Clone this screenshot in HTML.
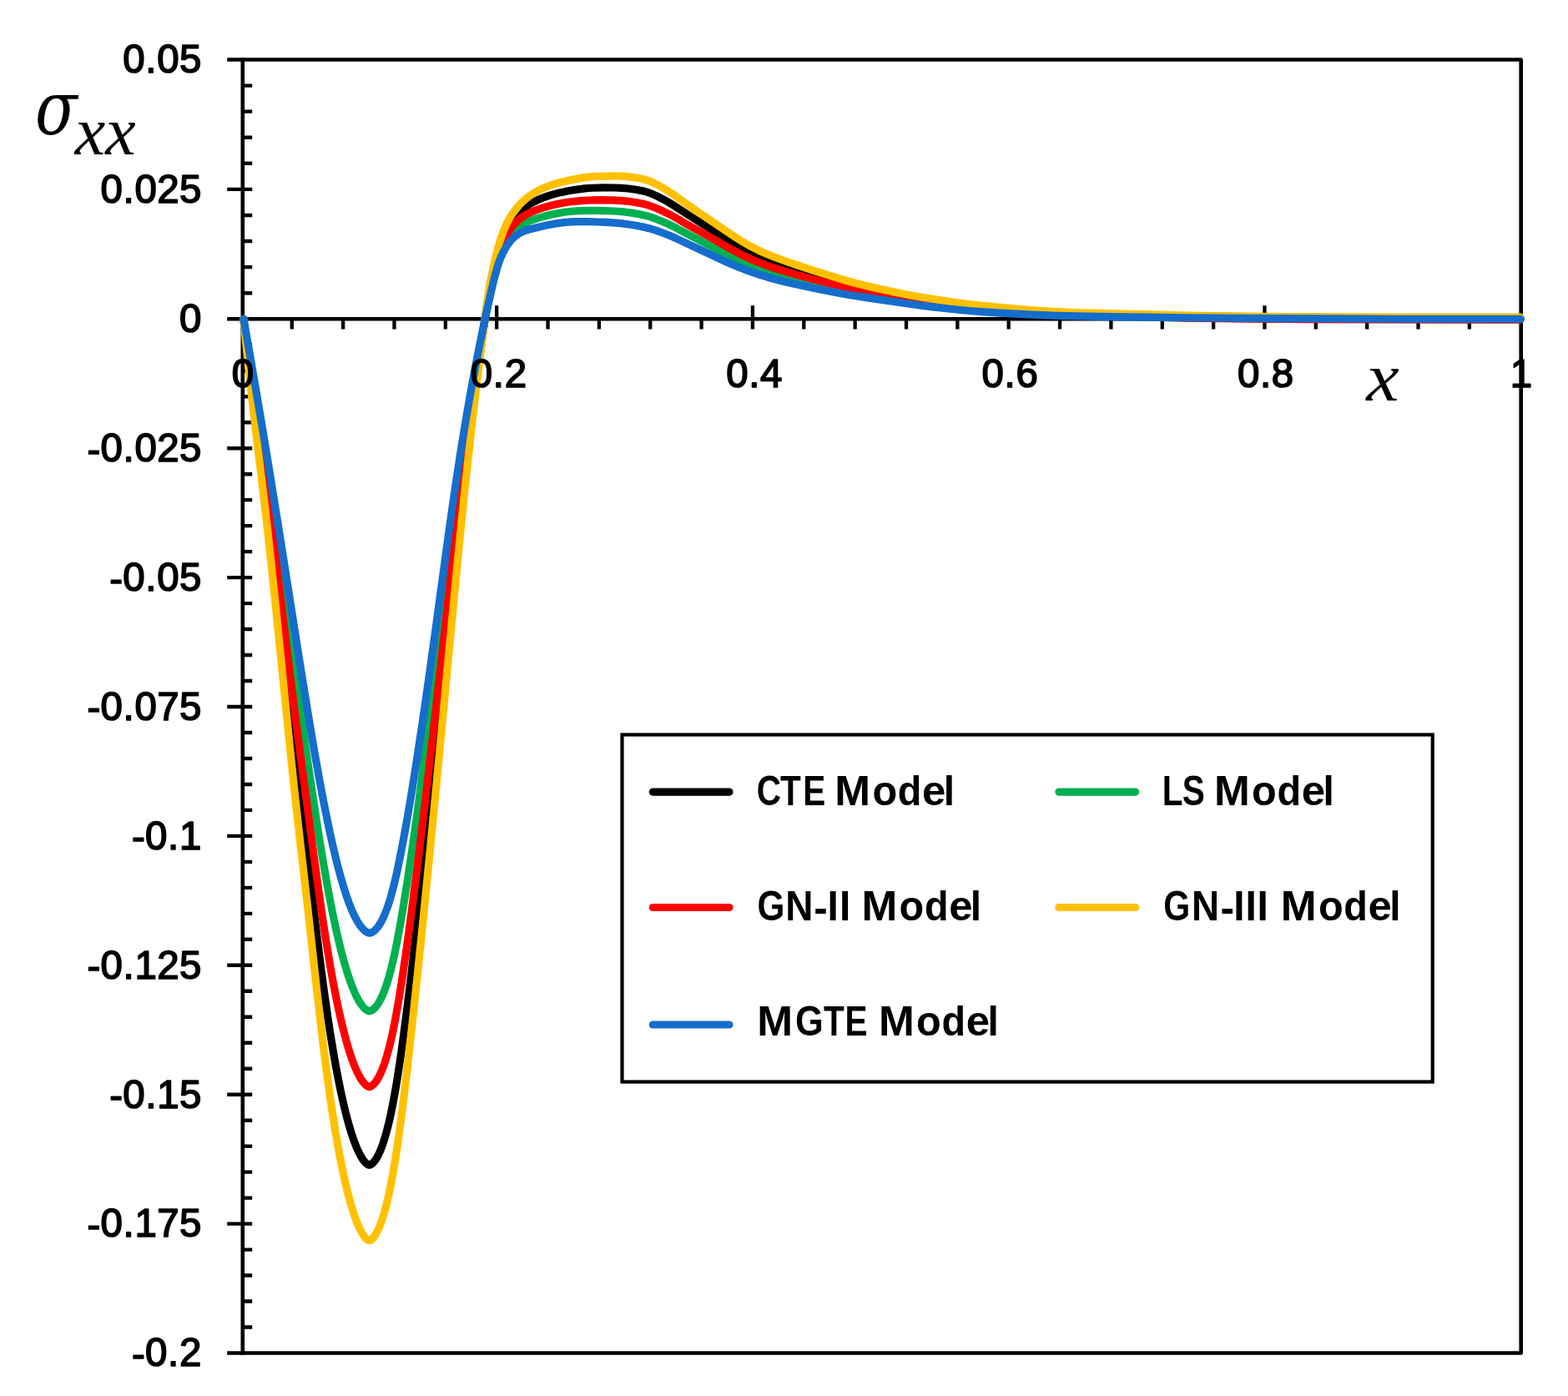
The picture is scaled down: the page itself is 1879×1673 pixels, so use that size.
<!DOCTYPE html>
<html lang="en">
<head>
<meta charset="utf-8">
<title>Stress distribution for different thermoelastic models</title>
<style>
html,body{margin:0;padding:0;background:#ffffff;}
body{width:1879px;height:1673px;overflow:hidden;}
svg{display:block;}
.t{font-family:"Liberation Sans",sans-serif;font-weight:bold;fill:#000;}
.n{font-family:"Liberation Sans",sans-serif;font-weight:normal;fill:#000;stroke:#000;stroke-width:1.7px;stroke-linejoin:round;}
.m{font-family:"Liberation Serif",serif;font-size:100px;font-style:italic;fill:#000;}
.s{font-family:"DejaVu Serif","Liberation Serif",serif;font-size:100px;font-style:italic;fill:#000;}
</style>
</head>
<body>
<svg width="1879" height="1673" viewBox="0 0 1879 1673">
<desc>CTE Model, LS Model, GN-II Model, GN-III Model, MGTE Model</desc>
<defs><filter id="soft" x="0" y="0" width="1879" height="1673" filterUnits="userSpaceOnUse" color-interpolation-filters="sRGB"><feGaussianBlur stdDeviation="0.65"/></filter></defs>
<rect width="1879" height="1673" fill="#ffffff"/>
<g id="chart" filter="url(#soft)">
<rect width="1879" height="1673" fill="#ffffff"/>
<g id="axes" stroke="#000" stroke-width="4.6" fill="none" stroke-linecap="butt">
<path d="M272.2,71.5 H1822.7 V1621.5 H272.2" stroke-linejoin="round"/>
<path d="M290.8,69.2 V1623.8"/>
<path d="M272.2,382.3 H1822.7"/>
<path stroke-width="4.4" d="M290.8,102.58H302.2M290.8,133.66H302.2M290.8,164.74H302.2M290.8,195.82H302.2M272.2,226.9H302.2M290.8,257.98H302.2M290.8,289.06H302.2M290.8,320.14H302.2M290.8,351.22H302.2M290.8,413.28H302.2M290.8,444.26H302.2M290.8,475.24H302.2M290.8,506.22H302.2M272.2,537.2H302.2M290.8,568.18H302.2M290.8,599.16H302.2M290.8,630.14H302.2M290.8,661.12H302.2M272.2,692.1H302.2M290.8,723.08H302.2M290.8,754.06H302.2M290.8,785.04H302.2M290.8,816.02H302.2M272.2,847H302.2M290.8,877.98H302.2M290.8,908.96H302.2M290.8,939.94H302.2M290.8,970.92H302.2M272.2,1001.9H302.2M290.8,1032.88H302.2M290.8,1063.86H302.2M290.8,1094.84H302.2M290.8,1125.82H302.2M272.2,1156.8H302.2M290.8,1187.78H302.2M290.8,1218.76H302.2M290.8,1249.74H302.2M290.8,1280.72H302.2M272.2,1311.7H302.2M290.8,1342.68H302.2M290.8,1373.66H302.2M290.8,1404.64H302.2M290.8,1435.62H302.2M272.2,1466.6H302.2M290.8,1497.58H302.2M290.8,1528.56H302.2M290.8,1559.54H302.2M290.8,1590.52H302.2"/>
<path stroke-width="4.3" d="M349.8,382.3V394.5M411.15,382.3V394.5M472.5,382.3V394.5M533.85,382.3V394.5M595.2,366.2V394.5M656.55,382.3V394.5M717.9,382.3V394.5M779.25,382.3V394.5M840.6,382.3V394.5M901.95,366.2V394.5M963.3,382.3V394.5M1024.65,382.3V394.5M1086,382.3V394.5M1147.35,382.3V394.5M1208.7,366.2V394.5M1270.05,382.3V394.5M1331.4,382.3V394.5M1392.75,382.3V394.5M1454.1,382.3V394.5M1515.45,366.2V394.5M1576.8,382.3V394.5M1638.15,382.3V394.5M1699.5,382.3V394.5M1760.85,382.3V394.5"/>
</g>
<g id="curves" fill="none" stroke-width="9.2" stroke-linejoin="round" stroke-linecap="round">
<path id="c-black" stroke="#000000" d="M291.90,382.30L295.40,414.28L299.65,449.90L304.15,485.54L316.40,580.08L319.90,608.27L323.65,639.56L330.65,700.69L348.15,858.54L353.15,902.11L357.65,940.09L367.40,1019.18L378.15,1107.86L382.65,1144.22L387.90,1184.47L392.90,1219.68L395.90,1239.24L399.15,1259.10L402.15,1276.22L405.40,1293.46L408.40,1308.18L411.65,1322.84L414.65,1335.21L417.90,1347.34L421.15,1358.19L424.40,1367.73L427.65,1375.97L430.65,1382.41L432.40,1385.65L433.90,1388.13L435.40,1390.32L436.90,1392.21L438.40,1393.80L439.90,1395.04L441.40,1395.89L442.15,1396.13L442.65,1396.19L443.65,1395.96L444.90,1395.32L446.15,1394.37L447.65,1392.89L448.90,1391.38L450.40,1389.25L451.90,1386.79L453.15,1384.48L454.65,1381.38L455.90,1378.53L458.40,1372.03L460.90,1364.45L463.40,1355.73L465.90,1345.83L468.15,1335.88L470.40,1324.91L472.90,1311.53L475.15,1298.44L477.65,1282.76L480.15,1265.98L482.65,1248.18L487.65,1210.01L493.65,1160.88L500.15,1104.83L507.15,1041.87L513.90,979.20L521.40,907.83L545.90,669.21L551.15,620.22L556.15,575.52L563.15,516.41L566.90,486.41L570.15,461.30L574.15,431.51L578.15,402.85L582.15,375.29L584.90,357.52L586.90,345.69L588.15,338.90L591.90,321.48L594.15,311.94L596.15,304.22L598.15,297.39L600.15,291.33L602.90,284.09L605.15,278.88L607.90,273.28L610.15,269.37L613.15,264.86L614.90,262.53L616.90,260.08L620.90,255.66L624.90,251.83L628.90,248.63L631.90,246.52L634.90,244.62L637.90,242.89L641.00,241.25L644.00,239.80L648.00,238.05L655.00,235.40L659.00,234.08L663.00,232.91L672.00,230.63L681.00,228.77L691.00,227.16L701.00,225.90L705.00,225.53L710.00,225.23L723.00,224.93L737.00,224.99L745.00,225.31L753.00,226.03L762.00,227.28L766.00,227.98L770.00,228.79L773.00,229.54L776.00,230.43L779.00,231.48L783.00,233.09L787.00,234.91L791.00,236.87L796.00,239.49L800.00,241.71L807.00,245.96L827.00,259.02L869.00,285.38L881.00,292.69L891.00,298.37L900.00,303.01L909.00,307.17L919.00,311.29L930.00,315.35L941.00,319.07L954.00,323.19L970.00,328.03L987.00,332.98L1000.00,336.63L1012.00,339.84L1023.00,342.58L1034.00,345.12L1048.00,348.10L1066.00,351.68L1086.00,355.53L1099.00,357.83L1113.00,360.05L1135.00,363.23L1149.00,365.11L1161.00,366.53L1181.00,368.55L1206.00,370.68L1235.00,372.89L1258.00,374.35L1274.00,375.11L1293.00,375.77L1359.00,377.37L1417.00,378.55L1452.00,379.16L1494.00,379.70L1539.00,380.10L1583.00,380.35L1655.00,380.57L1822.00,380.75"/>
<path id="c-green" stroke="#00b050" d="M291.90,382.30L298.15,424.35L314.90,533.50L322.40,584.16L331.15,645.79L347.65,765.30L354.90,817.14L361.40,862.46L371.15,928.94L377.65,972.34L382.90,1006.09L387.65,1035.06L392.40,1062.14L395.65,1079.49L398.90,1095.86L402.15,1111.22L405.40,1125.55L408.65,1138.83L411.90,1151.06L415.15,1162.23L418.15,1171.60L421.40,1180.69L424.40,1188.10L426.15,1191.97L427.65,1195.03L430.65,1200.40L432.15,1202.72L433.90,1205.12L435.65,1207.19L437.15,1208.70L438.65,1209.96L440.15,1210.94L441.65,1211.60L442.90,1211.80L443.90,1211.60L445.15,1211.07L446.40,1210.30L447.90,1209.10L449.15,1207.88L450.65,1206.17L452.15,1204.18L453.40,1202.30L455.90,1197.93L458.40,1192.70L460.90,1186.54L463.40,1179.41L465.90,1171.26L468.15,1163.03L470.40,1153.93L472.65,1143.98L475.15,1131.95L477.65,1118.98L480.15,1105.18L482.90,1089.13L488.15,1056.32L493.65,1019.43L499.65,976.88L505.90,930.47L512.15,882.37L518.90,828.98L537.65,676.35L542.90,634.35L548.15,593.88L553.90,551.73L557.15,528.96L560.90,503.63L564.15,482.48L568.15,457.41L571.90,434.83L575.90,411.66L580.15,388.01L583.90,368.02L587.90,348.17L592.15,329.47L594.90,319.01L596.90,312.06L598.90,306.04L600.90,300.92L603.15,295.86L605.90,290.45L608.15,286.59L611.15,282.20L613.90,278.88L617.15,275.58L621.15,272.14L623.15,270.63L625.15,269.30L627.15,268.16L630.15,266.68L632.90,265.49L635.90,264.33L644.00,261.62L654.00,258.71L661.00,257.01L669.00,255.45L678.00,254.03L685.00,253.24L695.00,252.63L707.00,252.31L718.00,252.36L730.00,252.74L740.00,253.26L748.00,253.95L757.00,255.11L766.00,256.63L773.00,258.14L776.00,258.93L780.00,260.15L787.00,262.65L796.00,266.33L802.00,269.05L807.00,271.51L828.00,282.58L867.00,302.88L877.00,307.93L885.00,311.75L896.00,316.58L907.00,320.88L913.00,323.02L919.00,325.03L932.00,329.00L942.00,331.77L954.00,334.87L968.00,338.32L983.00,341.87L996.00,344.81L1008.00,347.39L1019.00,349.61L1030.00,351.67L1052.00,355.40L1088.00,361.20L1102.00,363.32L1116.00,365.21L1137.00,367.85L1150.00,369.35L1162.00,370.57L1181.00,372.19L1204.00,373.83L1231.00,375.47L1255.00,376.66L1278.00,377.57L1306.00,378.45L1349.00,379.61L1382.00,380.33L1418.00,380.86L1464.00,381.40L1554.00,382.11L1676.00,382.60L1822.00,382.75"/>
<path id="c-red" stroke="#ff0000" d="M291.90,382.30L295.15,408.23L299.15,438.28L315.65,556.03L323.15,611.95L330.65,670.96L349.65,824.98L354.90,866.27L359.90,904.45L375.90,1023.97L381.40,1064.27L387.15,1104.28L389.90,1122.29L392.65,1139.48L395.90,1158.70L398.90,1175.40L402.15,1192.35L405.15,1206.94L408.40,1221.59L411.40,1234.07L414.65,1246.43L417.90,1257.62L421.15,1267.61L424.15,1275.77L427.40,1283.44L430.40,1289.42L432.15,1292.43L433.65,1294.72L435.40,1297.07L436.90,1298.79L438.40,1300.23L439.90,1301.37L441.40,1302.15L442.65,1302.44L443.65,1302.26L444.90,1301.70L446.15,1300.87L447.65,1299.55L448.90,1298.21L450.40,1296.32L451.90,1294.12L453.15,1292.05L454.65,1289.27L455.90,1286.70L458.40,1280.84L460.90,1273.99L463.40,1266.08L465.90,1257.07L468.15,1247.99L470.40,1237.98L472.65,1227.03L474.90,1215.16L477.40,1200.97L479.90,1185.79L482.65,1168.08L487.65,1133.51L493.40,1090.87L499.65,1041.94L506.40,986.68L512.90,931.62L520.15,868.58L544.15,654.79L549.90,605.88L555.15,563.28L558.90,534.15L562.15,509.79L565.90,482.67L569.90,454.87L573.90,428.16L577.90,402.48L581.90,377.76L584.90,360.21L588.15,342.97L591.90,325.98L594.15,316.88L596.15,309.40L598.15,302.79L600.15,297.04L602.15,291.99L604.90,285.88L607.15,281.48L609.90,276.85L612.15,273.61L615.15,269.89L619.15,265.70L623.15,262.12L624.90,260.76L626.90,259.38L629.15,257.98L632.15,256.31L634.90,254.95L637.90,253.60L645.00,250.83L653.00,248.21L661.00,246.06L669.00,244.33L679.00,242.52L688.00,241.30L699.00,240.30L709.00,239.78L720.00,239.69L734.00,239.93L743.00,240.34L751.00,241.05L760.00,242.27L768.00,243.69L772.00,244.58L775.00,245.38L778.00,246.31L782.00,247.74L786.00,249.34L791.00,251.50L796.00,253.81L801.00,256.27L808.00,260.03L823.00,268.65L847.00,282.07L874.00,297.46L884.00,302.87L893.00,307.38L902.00,311.48L911.00,315.18L921.00,318.87L932.00,322.52L943.00,325.87L955.00,329.31L970.00,333.42L986.00,337.63L999.00,340.91L1011.00,343.79L1022.00,346.26L1033.00,348.55L1045.00,350.87L1062.00,353.95L1086.00,358.20L1100.00,360.52L1114.00,362.58L1135.00,365.42L1149.00,367.17L1161.00,368.50L1182.00,370.46L1208.00,372.47L1237.00,374.41L1262.00,375.77L1291.00,376.97L1349.00,378.94L1390.00,380.21L1423.00,381.05L1446.00,381.48L1482.00,381.92L1564.00,382.56L1677.00,382.96L1822.00,383.10"/>
<path id="c-yellow" stroke="#ffc000" d="M291.90,382.30L295.65,420.72L300.15,462.07L304.65,500.61L316.40,598.07L319.90,628.51L323.65,662.51L330.40,726.96L347.15,892.90L351.90,938.25L356.40,979.74L368.15,1082.60L379.40,1184.01L383.40,1219.33L388.40,1261.14L392.90,1295.70L395.90,1317.04L398.90,1337.05L401.90,1355.74L405.15,1374.52L408.15,1390.53L411.40,1406.45L414.40,1419.87L417.65,1433.03L420.65,1443.94L423.90,1454.42L427.15,1463.51L428.90,1467.84L430.40,1471.22L432.15,1474.80L433.65,1477.53L435.40,1480.34L436.90,1482.40L438.40,1484.13L439.90,1485.48L441.40,1486.39L442.15,1486.65L442.65,1486.69L443.65,1486.42L444.90,1485.69L446.15,1484.64L447.65,1482.99L448.90,1481.32L450.40,1478.97L451.90,1476.26L453.15,1473.71L454.65,1470.31L455.90,1467.17L458.40,1460.05L460.90,1451.77L463.40,1442.28L465.90,1431.52L468.15,1420.72L470.65,1407.45L472.90,1394.35L475.15,1380.16L477.65,1363.15L480.15,1344.91L482.65,1325.52L487.65,1283.86L493.90,1228.03L500.40,1167.03L507.65,1096.27L514.90,1023.30L522.90,940.83L547.15,684.87L552.90,626.70L557.90,578.33L564.90,514.35L568.15,486.12L571.90,454.66L575.15,428.32L579.15,397.02L582.90,368.83L585.15,353.17L586.90,342.05L588.15,334.84L589.15,330.42L591.90,316.98L594.15,307.00L596.15,299.05L598.15,292.00L600.90,283.42L603.15,277.29L605.90,270.67L608.15,265.93L610.90,260.99L614.15,255.95L617.90,250.93L622.15,245.91L626.15,241.80L628.15,239.96L631.15,237.43L633.90,235.30L636.90,233.18L640.00,231.19L643.00,229.44L646.00,227.85L650.00,225.95L653.00,224.67L657.00,223.12L661.00,221.72L666.00,220.15L671.00,218.75L676.00,217.48L686.00,215.28L698.00,213.10L705.00,212.13L713.00,211.52L728.00,211.04L735.00,210.95L741.00,210.99L748.00,211.32L756.00,212.12L764.00,213.30L768.00,214.04L771.00,214.71L774.00,215.53L777.00,216.53L780.00,217.71L783.00,219.05L787.00,221.04L791.00,223.20L796.00,226.06L800.00,228.51L807.00,233.19L820.00,242.59L827.00,247.50L867.00,274.77L881.00,284.10L891.00,290.33L900.00,295.42L909.00,299.96L918.00,304.00L929.00,308.43L940.00,312.49L954.00,317.35L970.00,322.64L989.00,328.71L1002.00,332.71L1014.00,336.22L1025.00,339.21L1036.00,341.98L1050.00,345.22L1067.00,348.92L1084.00,352.45L1097.00,354.95L1111.00,357.34L1132.00,360.60L1147.00,362.77L1160.00,364.45L1180.00,366.62L1208.00,369.22L1238.00,371.73L1260.00,373.25L1277.00,374.11L1296.00,374.82L1368.00,376.72L1424.00,378.00L1456.00,378.62L1496.00,379.17L1541.00,379.61L1580.00,379.83L1642.00,380.00L1822.00,380.20"/>
<path id="c-blue" stroke="#156dcc" d="M291.90,382.30L299.40,424.81L306.65,466.85L314.15,511.33L321.65,556.79L335.15,640.78L360.90,804.38L371.40,868.97L376.90,901.31L382.15,930.86L387.15,957.56L391.90,981.46L395.40,998.07L398.65,1012.67L402.15,1027.47L405.40,1040.31L408.65,1052.27L411.90,1063.32L415.15,1073.43L418.40,1082.60L421.65,1090.78L424.65,1097.42L427.65,1103.16L430.65,1107.99L432.15,1110.06L433.90,1112.20L435.65,1114.04L437.15,1115.39L438.65,1116.51L440.15,1117.38L441.65,1117.98L442.90,1118.20L444.15,1117.98L445.40,1117.49L446.65,1116.80L448.15,1115.73L449.40,1114.65L450.90,1113.13L452.40,1111.37L453.65,1109.70L456.15,1105.81L458.65,1101.13L461.15,1095.61L463.65,1089.19L465.90,1082.62L468.15,1075.26L470.40,1067.12L472.90,1057.16L475.15,1047.42L477.65,1035.83L480.40,1022.27L483.15,1007.98L488.15,980.30L493.65,947.61L499.40,911.30L505.40,871.51L511.40,830.16L518.15,782.21L536.15,650.31L540.90,616.14L546.15,579.84L551.90,542.18L555.15,521.90L558.90,499.39L562.15,480.62L566.15,458.42L569.90,438.44L573.90,417.97L577.90,398.29L582.15,378.18L587.15,355.51L591.90,334.98L595.15,323.16L596.90,317.31L598.15,313.57L600.15,308.46L602.90,302.54L605.15,298.33L608.15,293.47L610.90,289.72L612.15,288.24L613.90,286.40L616.90,283.68L620.90,280.67L624.15,278.66L625.90,277.80L628.15,276.87L630.90,275.91L633.90,275.02L640.00,273.48L656.00,269.76L663.00,268.42L670.00,267.36L678.00,266.37L684.00,265.89L692.00,265.64L704.00,265.72L716.00,265.98L727.00,266.47L738.00,267.20L746.00,267.93L754.00,268.94L762.00,270.22L771.00,271.98L778.00,273.72L786.00,276.18L796.00,279.76L803.00,282.56L810.00,285.63L868.00,312.71L876.00,316.31L884.00,319.71L890.00,322.10L896.00,324.36L908.00,328.51L920.00,332.19L933.00,335.73L942.00,337.96L953.00,340.49L967.00,343.55L981.00,346.48L1004.00,350.96L1015.00,352.93L1026.00,354.76L1043.00,357.35L1092.00,364.43L1104.00,366.08L1118.00,367.81L1139.00,370.24L1151.00,371.51L1162.00,372.53L1179.00,373.88L1199.00,375.19L1222.00,376.46L1244.00,377.47L1262.00,378.14L1280.00,378.65L1331.00,379.59L1375.00,380.18L1425.00,380.73L1539.00,381.64L1675.00,382.24L1822.00,382.40"/>
</g>
<g id="ylabels">
<text class="n" font-size="47.4" x="147.32 174.35 188.18 214.94" y="87.3">0.05</text>
<text class="n" font-size="47.4" x="120.56 147.59 161.42 188.18 214.94" y="242.7">0.025</text>
<text class="n" font-size="47.4" x="214.94" y="398.1">0</text>
<text class="n" font-size="47.4" x="104.4 120.56 147.59 161.42 188.18 214.94" y="554.6 553 553 553 553 553">-0.025</text>
<text class="n" font-size="47.4" x="131.15 147.32 174.35 188.18 214.94" y="709.5 707.9 707.9 707.9 707.9">-0.05</text>
<text class="n" font-size="47.4" x="104.4 120.56 147.59 161.42 188.18 214.94" y="864.4 862.8 862.8 862.8 862.8 862.8">-0.075</text>
<text class="n" font-size="47.4" x="157.91 174.08 201.11 214.94" y="1019.3 1017.7 1017.7 1017.7">-0.1</text>
<text class="n" font-size="47.4" x="104.4 120.56 147.59 161.42 188.18 214.94" y="1174.2 1172.6 1172.6 1172.6 1172.6 1172.6">-0.125</text>
<text class="n" font-size="47.4" x="131.15 147.32 174.35 188.18 214.94" y="1329.1 1327.5 1327.5 1327.5 1327.5">-0.15</text>
<text class="n" font-size="47.4" x="104.4 120.56 147.59 161.42 188.18 214.94" y="1484 1482.4 1482.4 1482.4 1482.4 1482.4">-0.175</text>
<text class="n" font-size="47.4" x="157.91 174.08 201.11 214.94" y="1638.9 1637.3 1637.3 1637.3">-0.2</text>
</g>
<g id="xlabels">
<text class="n" font-size="47.4" x="277.82" y="464.3">0</text>
<text class="n" font-size="47.4" x="563.79 590.82 604.65" y="464.3">0.2</text>
<text class="n" font-size="47.4" x="870.19 897.22 911.05" y="464.3">0.4</text>
<text class="n" font-size="47.4" x="1176.59 1203.62 1217.45" y="464.3">0.6</text>
<text class="n" font-size="47.4" x="1482.99 1510.02 1523.85" y="464.3">0.8</text>
<text class="n" font-size="47.4" x="1809.82" y="464.3">1</text>
</g>
<g id="titles">
<text class="s" transform="translate(41.94 161.3) scale(0.7409 0.8900)">σ</text>
<text class="m" transform="translate(89.82 185) scale(0.8202 0.8200)">xx</text>
<text class="m" transform="translate(1637.28 480.2) scale(0.8844 0.8200)">x</text>
</g>
<g id="legend">
<rect x="745.5" y="880.5" width="971.2" height="416" fill="#ffffff" stroke="#000" stroke-width="4.2"/>
<line x1="782.3" y1="949.1" x2="874" y2="949.1" stroke="#000000" stroke-width="9.2" stroke-linecap="round"/>
<text class="t" aria-label="CTE Model" font-size="49.4" y="964.6"><tspan x="906.65" textLength="29.25" lengthAdjust="spacingAndGlyphs">C</tspan><tspan x="935.12" textLength="24.74" lengthAdjust="spacingAndGlyphs">T</tspan><tspan x="962.18" textLength="27.02" lengthAdjust="spacingAndGlyphs">E</tspan> <tspan x="1000.35" textLength="42.8" lengthAdjust="spacingAndGlyphs">M</tspan><tspan x="1045.4" textLength="29.7" lengthAdjust="spacingAndGlyphs">o</tspan><tspan x="1075.78" textLength="28.61" lengthAdjust="spacingAndGlyphs">d</tspan><tspan x="1105.11" textLength="28.33" lengthAdjust="spacingAndGlyphs">e</tspan><tspan x="1130.77" textLength="13.31" lengthAdjust="spacingAndGlyphs">l</tspan></text>
<line x1="1268.9" y1="949.1" x2="1360.6" y2="949.1" stroke="#00b050" stroke-width="9.2" stroke-linecap="round"/>
<text class="t" aria-label="LS Model" font-size="49.4" y="964.6"><tspan x="1392.65" textLength="24.74" lengthAdjust="spacingAndGlyphs">L</tspan><tspan x="1416.8" textLength="27.02" lengthAdjust="spacingAndGlyphs">S</tspan> <tspan x="1455.05" textLength="42.8" lengthAdjust="spacingAndGlyphs">M</tspan><tspan x="1500.1" textLength="29.7" lengthAdjust="spacingAndGlyphs">o</tspan><tspan x="1530.48" textLength="28.61" lengthAdjust="spacingAndGlyphs">d</tspan><tspan x="1559.81" textLength="28.33" lengthAdjust="spacingAndGlyphs">e</tspan><tspan x="1585.47" textLength="13.31" lengthAdjust="spacingAndGlyphs">l</tspan></text>
<line x1="782.3" y1="1087.5" x2="874" y2="1087.5" stroke="#ff0000" stroke-width="9.2" stroke-linecap="round"/>
<text class="t" aria-label="GN-II Model" font-size="49.4" y="1103.2"><tspan x="907.57" textLength="32.85" lengthAdjust="spacingAndGlyphs">G</tspan><tspan x="941.33" textLength="33.17" lengthAdjust="spacingAndGlyphs">N</tspan><tspan x="975.16" y="1104.9" textLength="16.53" lengthAdjust="spacingAndGlyphs">-</tspan><tspan x="991.54" y="1103.2" textLength="13.31" lengthAdjust="spacingAndGlyphs">I</tspan><tspan x="1005.94" textLength="13.31" lengthAdjust="spacingAndGlyphs">I</tspan> <tspan x="1032.45" textLength="42.8" lengthAdjust="spacingAndGlyphs">M</tspan><tspan x="1077.5" textLength="29.7" lengthAdjust="spacingAndGlyphs">o</tspan><tspan x="1107.88" textLength="28.61" lengthAdjust="spacingAndGlyphs">d</tspan><tspan x="1137.21" textLength="28.33" lengthAdjust="spacingAndGlyphs">e</tspan><tspan x="1162.87" textLength="13.31" lengthAdjust="spacingAndGlyphs">l</tspan></text>
<line x1="1268.9" y1="1087.5" x2="1360.6" y2="1087.5" stroke="#ffc000" stroke-width="9.2" stroke-linecap="round"/>
<text class="t" aria-label="GN-III Model" font-size="49.4" y="1103.2"><tspan x="1394.22" textLength="31.93" lengthAdjust="spacingAndGlyphs">G</tspan><tspan x="1427.94" textLength="33.04" lengthAdjust="spacingAndGlyphs">N</tspan><tspan x="1462.56" y="1104.9" textLength="16.53" lengthAdjust="spacingAndGlyphs">-</tspan><tspan x="1478.14" y="1103.2" textLength="13.31" lengthAdjust="spacingAndGlyphs">I</tspan><tspan x="1492.54" textLength="13.31" lengthAdjust="spacingAndGlyphs">I</tspan><tspan x="1506.44" textLength="13.31" lengthAdjust="spacingAndGlyphs">I</tspan> <tspan x="1534.85" textLength="42.8" lengthAdjust="spacingAndGlyphs">M</tspan><tspan x="1579.9" textLength="29.7" lengthAdjust="spacingAndGlyphs">o</tspan><tspan x="1610.28" textLength="28.61" lengthAdjust="spacingAndGlyphs">d</tspan><tspan x="1639.61" textLength="28.33" lengthAdjust="spacingAndGlyphs">e</tspan><tspan x="1665.27" textLength="13.31" lengthAdjust="spacingAndGlyphs">l</tspan></text>
<line x1="782.3" y1="1228.0" x2="874" y2="1228.0" stroke="#156dcc" stroke-width="9.2" stroke-linecap="round"/>
<text class="t" aria-label="MGTE Model" font-size="49.4" y="1241.2"><tspan x="907.35" textLength="42.8" lengthAdjust="spacingAndGlyphs">M</tspan><tspan x="953.02" textLength="33.77" lengthAdjust="spacingAndGlyphs">G</tspan><tspan x="987.02" textLength="24.74" lengthAdjust="spacingAndGlyphs">T</tspan><tspan x="1012.48" textLength="27.02" lengthAdjust="spacingAndGlyphs">E</tspan> <tspan x="1053.05" textLength="42.8" lengthAdjust="spacingAndGlyphs">M</tspan><tspan x="1098.1" textLength="29.7" lengthAdjust="spacingAndGlyphs">o</tspan><tspan x="1128.48" textLength="28.61" lengthAdjust="spacingAndGlyphs">d</tspan><tspan x="1157.81" textLength="28.33" lengthAdjust="spacingAndGlyphs">e</tspan><tspan x="1183.47" textLength="13.31" lengthAdjust="spacingAndGlyphs">l</tspan></text>
</g>
</g>
</svg>
</body>
</html>
